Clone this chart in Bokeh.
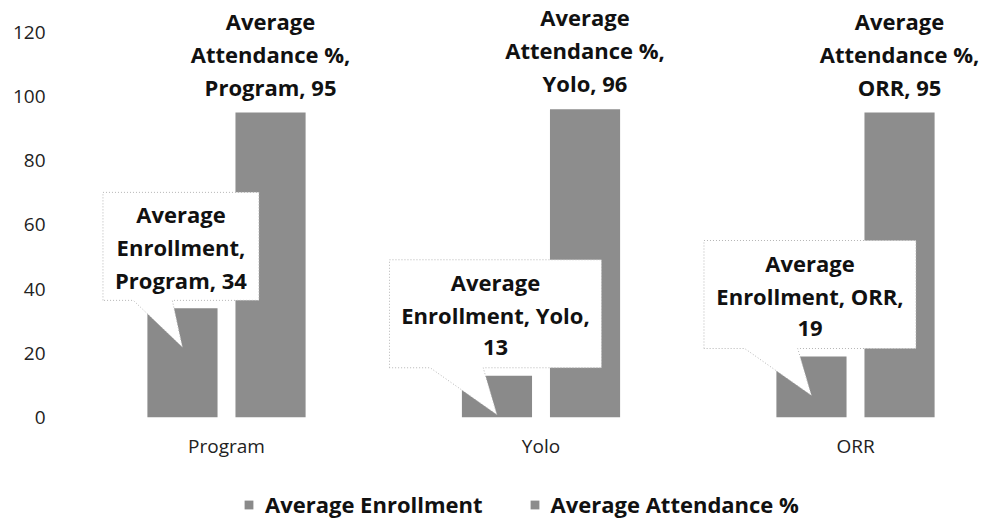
import textwrap
from bokeh.plotting import figure
from bokeh.layouts import column
from bokeh.models import ColumnDataSource, FixedTicker, Legend, LegendItem, Range1d
from bokeh.core.properties import value
from bokeh.embed import file_html
from bokeh.resources import INLINE

# ---------------- data ----------------
categories = ["Program", "Yolo", "ORR"]
avg_enrollment = [34, 13, 19]
avg_attendance = [95, 96, 95]
series_names = ["Average Enrollment", "Average Attendance %"]
y_ticks = [0, 20, 40, 60, 80, 100, 120]

# ---------------- style / layout constants ----------------
FONT = "Open Sans"
BAR_COLOR_E = "#8a8a8a"
BAR_COLOR_A = "#8d8d8d"
TEXT_COLOR = "#111111"
PX_X = 314.5           # pixels per category
PX_Y = 3.21            # pixels per y unit
FRAME_W, FRAME_H = 921, 409
LEFT, TOP, BOTTOM = 59, 8, 40
DODGE = 0.14
BAR_W = 0.223
LINE_GAP = 33
enroll_wrap = [12, 17, 16]
attend_wrap = [13, 13, 13]
enroll_box_w = [156, 212, 212]

x_start = -167 / PX_X
p = figure(
    frame_width=FRAME_W, frame_height=FRAME_H,
    min_border_left=LEFT, min_border_right=0, min_border_top=TOP, min_border_bottom=BOTTOM,
    x_range=Range1d(x_start, x_start + FRAME_W / PX_X),
    y_range=Range1d(0, FRAME_H / PX_Y),
    output_backend="svg", toolbar_location=None,
)
p.outline_line_color = None
p.grid.grid_line_color = None

xs = list(range(len(categories)))
src = ColumnDataSource(dict(
    xe=[x - DODGE for x in xs], xa=[x + DODGE for x in xs],
    enroll=avg_enrollment, attend=avg_attendance,
))
r_e = p.vbar(x="xe", top="enroll", width=BAR_W, source=src, fill_color=BAR_COLOR_E, line_color=None)
r_a = p.vbar(x="xa", top="attend", width=BAR_W, source=src, fill_color=BAR_COLOR_A, line_color=None)

# ---------------- callouts for enrollment ----------------
pxs, pys = [], []
tx, ty, tt, toff = [], [], [], []
for i, cat in enumerate(categories):
    tip_x = xs[i] - DODGE
    tip_y = avg_enrollment[i] - 39 / PX_Y
    w = enroll_box_w[i]
    cx = tip_x - 1.5 / PX_X
    left, right = cx - w / 2 / PX_X, cx + w / 2 / PX_X
    bottom, top = tip_y + 47 / PX_Y, tip_y + 155 / PX_Y
    bl, br = tip_x - 0.315 * w / PX_X, tip_x - 0.065 * w / PX_X
    pxs.append([left, left, right, right, br, tip_x, bl])
    pys.append([bottom, top, top, bottom, bottom, tip_y, bottom])
    lines = textwrap.wrap(f"{series_names[0]}, {cat}, {avg_enrollment[i]}", enroll_wrap[i])
    cy = (bottom + top) / 2
    n = len(lines)
    for k, ln in enumerate(lines):
        tx.append(cx)
        ty.append(cy)
        tt.append(ln)
        toff.append((k - (n - 1) / 2) * LINE_GAP + 1)
p.patches(pxs, pys, fill_color="white", line_color="#b5b5b5", line_width=1, line_dash="1 2")
p.text(x=tx, y=ty, text=tt, y_offset=toff, text_align="center", text_baseline="middle",
       text_font=value(FONT), text_font_style="bold", text_font_size="22px", text_color=TEXT_COLOR)

# ---------------- attendance labels ----------------
ax, ay, at, aoff = [], [], [], []
for i, cat in enumerate(categories):
    lines = textwrap.wrap(f"{series_names[1]}, {cat}, {avg_attendance[i]}", attend_wrap[i])
    n = len(lines)
    for k, ln in enumerate(lines):
        ax.append(xs[i] + DODGE)
        ay.append(avg_attendance[i])
        at.append(ln)
        aoff.append(-26 - (n - 1 - k) * LINE_GAP)
p.text(x=ax, y=ay, text=at, y_offset=aoff, text_align="center", text_baseline="middle",
       text_font=value(FONT), text_font_style="bold", text_font_size="22px", text_color=TEXT_COLOR)

# ---------------- axes ----------------
p.yaxis.ticker = FixedTicker(ticks=y_ticks)
p.xaxis.ticker = FixedTicker(ticks=xs)
p.xaxis.major_label_overrides = {x: c for x, c in zip(xs, categories)}
for ax_ in (p.xaxis, p.yaxis):
    ax_.axis_line_color = None
    ax_.major_tick_line_color = None
    ax_.minor_tick_line_color = None
    ax_.major_label_text_font = FONT
    ax_.major_label_text_font_size = "19px"
    ax_.major_label_text_color = "#222222"
p.yaxis.major_label_standoff = 8
p.xaxis.major_label_standoff = 9

# ---------------- legend (separate strip below) ----------------
LEG_W, LEG_H = LEFT + FRAME_W, 60
q = figure(frame_width=LEG_W, frame_height=LEG_H, min_border=0,
           x_axis_type=None, y_axis_type=None, output_backend="svg", toolbar_location=None)
q.outline_line_color = None
q.grid.grid_line_color = None
qe = q.vbar(x="xe", top="enroll", width=BAR_W, source=src, fill_color=BAR_COLOR_E, line_color=None, visible=False)
qa = q.vbar(x="xa", top="attend", width=BAR_W, source=src, fill_color=BAR_COLOR_A, line_color=None, visible=False)
legend = Legend(
    items=[LegendItem(label=series_names[0], renderers=[qe]),
           LegendItem(label=series_names[1], renderers=[qa])],
    location=(243, 2), orientation="horizontal", padding=0, margin=0,
    border_line_color=None, background_fill_alpha=0,
    label_text_font=FONT, label_text_font_size="22px", label_text_font_style="bold",
    label_text_color=TEXT_COLOR,
    glyph_width=11, glyph_height=11, label_standoff=11, spacing=46,
)
q.add_layout(legend)

layout = column(p, q, spacing=0)
open("out.html", "w").write(file_html(layout, INLINE))
